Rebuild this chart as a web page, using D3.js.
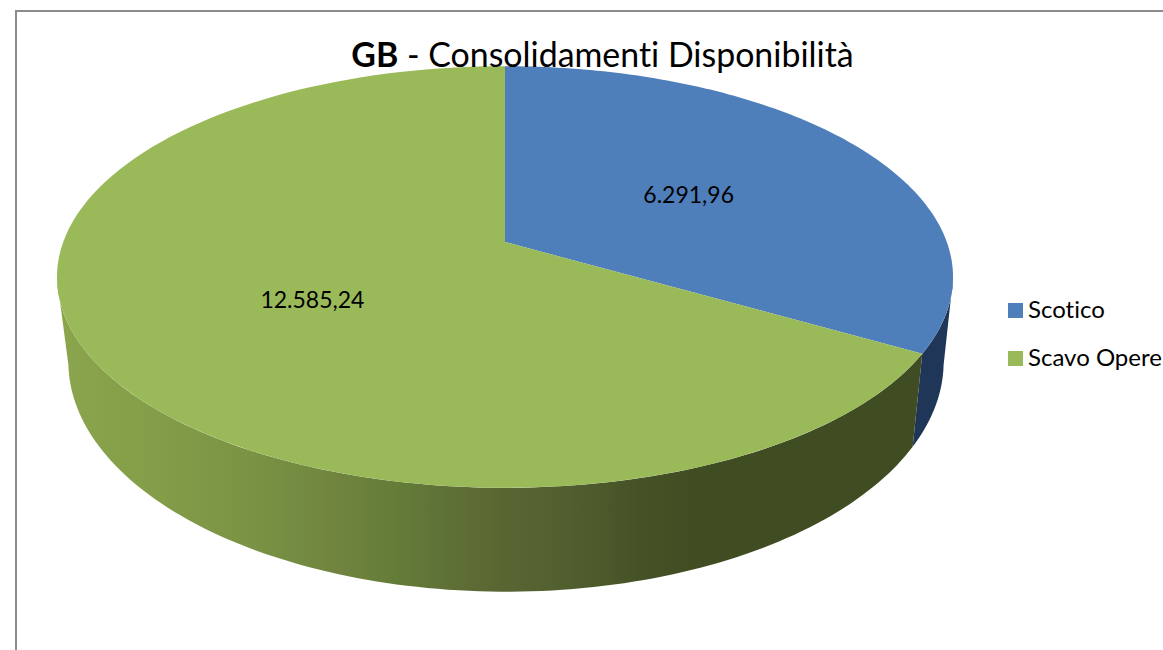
<!DOCTYPE html>
<html>
<head>
<meta charset="utf-8">
<script src="https://cdn.jsdelivr.net/npm/d3@7"></script>
<style>
  html, body { margin: 0; padding: 0; background: #fff; overflow: hidden; }
  text { font-family: Lato, "Open Sans", sans-serif; fill: #000; font-variant-ligatures: none; }
</style>
</head>
<body>
<script>
var categories = ["Scotico", "Scavo Opere"];
var values = [6291.96, 12585.24];
var valueLabels = ["6.291,96", "12.585,24"];
var titleBold = "GB";
var titleRest = " - Consolidamenti Disponibilità";

var width = 1163, height = 650;
var color = ["#4e7fbb", "#9aba5a"];
var sideBlue = "#1f3659";

// the pie is tilted with some perspective, so each rim is a projected circle
var topPlane = {cx: 505, cy: 242, rx: 441.8, ry: 205, k: 0.166};
var bottomPlane = {cx: 506, cy: 325, rx: 432, ry: 224, k: 0.16};
var tau = 2 * Math.PI;
var frontStart = 100 / 360 * tau, frontEnd = 260 / 360 * tau;

function project(plane, angle, r) {
  var u = Math.sin(angle) * r, v = -Math.cos(angle) * r;
  var w = 1 - plane.k * v;
  return [plane.cx + plane.rx * u / w, plane.cy + plane.ry * v / w];
}

function rim(plane, a0, a1) {
  return d3.range(0, 121).map(function(i) {
    return project(plane, a0 + (a1 - a0) * i / 120, 1);
  });
}

var pie = d3.pie().sort(null).startAngle(0).endAngle(tau);
var slices = pie(values);
var line = d3.line();

var svg = d3.select("body").append("svg")
  .attr("width", width)
  .attr("height", height);

svg.append("rect").attr("width", width).attr("height", height).attr("fill", "#fff");

// frame, open on the right and bottom
svg.append("path")
  .attr("d", line([[16, height], [16, 11], [width, 11]]))
  .attr("fill", "none")
  .attr("stroke", "#8c8c8c")
  .attr("stroke-width", 2);

var grad = svg.append("defs").append("linearGradient")
  .attr("id", "sideGreen")
  .attr("gradientUnits", "userSpaceOnUse")
  .attr("x1", 60).attr("x2", 925).attr("y1", 0).attr("y2", 0);

[[0, "#8aa54c"], [0.1, "#849e49"], [0.22, "#7a9344"], [0.28, "#738b41"], [0.31, "#72853f"],
 [0.39, "#637c38"], [0.45, "#5f7036"], [0.51, "#596632"], [0.58, "#526030"],
 [0.67, "#445226"], [0.74, "#404d22"], [1, "#404d22"]].forEach(function(s) {
  grad.append("stop").attr("offset", s[0]).attr("stop-color", s[1]);
});

// side wall, only the part facing the viewer
slices.forEach(function(d, i) {
  var a0 = Math.max(d.startAngle, frontStart), a1 = Math.min(d.endAngle, frontEnd);
  if (a1 <= a0) return;
  var pts = rim(topPlane, a0, a1).concat(rim(bottomPlane, a1, a0));
  svg.append("path")
    .attr("d", line(pts) + "Z")
    .attr("fill", i == 0 ? sideBlue : "url(#sideGreen)");
});

// top face
svg.selectAll(".slice")
  .data(slices)
  .enter().append("path")
  .attr("class", "slice")
  .attr("fill", function(d, i) { return color[i]; })
  .attr("d", function(d) {
    return line([project(topPlane, 0, 0)].concat(rim(topPlane, d.startAngle, d.endAngle))) + "Z";
  });

// value labels sit halfway along the middle of each slice
var labelNudge = [0, 7];
svg.selectAll(".value")
  .data(slices)
  .enter().append("text")
  .attr("class", "value")
  .attr("text-anchor", "middle")
  .attr("font-size", 23)
  .attr("x", function(d, i) { return project(topPlane, (d.startAngle + d.endAngle) / 2, 0.5)[0] + labelNudge[i]; })
  .attr("y", function(d, i) { return project(topPlane, (d.startAngle + d.endAngle) / 2, 0.5)[1] + 10 + (i == 1 ? 3 : 0); })
  .text(function(d, i) { return valueLabels[i]; });

var title = svg.append("text")
  .attr("x", 602.5)
  .attr("y", 67)
  .attr("text-anchor", "middle")
  .attr("font-size", 33.9)
  .attr("xml:space", "preserve");
title.append("tspan").attr("font-weight", "bold").text(titleBold);
title.append("tspan").text(titleRest);

var legend = svg.selectAll(".legend")
  .data(categories)
  .enter().append("g")
  .attr("class", "legend")
  .attr("transform", function(d, i) { return "translate(1008," + (303 + i * 48) + ")"; });

legend.append("rect")
  .attr("width", 15)
  .attr("height", 15)
  .attr("fill", function(d, i) { return color[i]; });

legend.append("text")
  .attr("x", 20)
  .attr("y", 15)
  .attr("font-size", 24)
  .text(function(d) { return d; });
</script>
</body>
</html>
